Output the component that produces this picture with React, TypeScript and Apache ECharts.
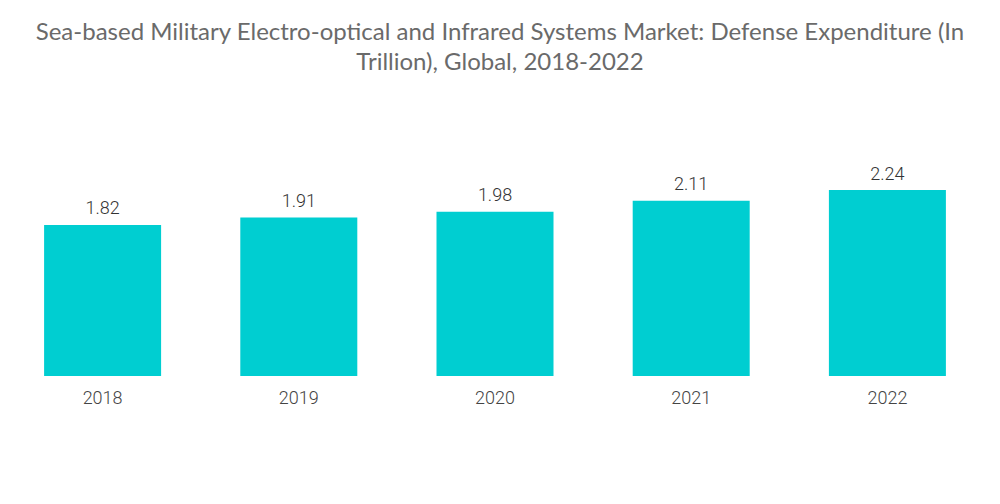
import React, { useEffect, useRef } from "react";
import * as echarts from "echarts";

const categories = ["2018", "2019", "2020", "2021", "2022"];
const values = [1.82, 1.91, 1.98, 2.11, 2.24];
const titleText =
  "Sea-based Military Electro-optical and Infrared Systems Market: Defense Expenditure (In\nTrillion), Global, 2018-2022";

export default function App() {
  const ref = useRef<HTMLDivElement>(null);
  useEffect(() => {
    if (!ref.current) return;
    const chart = echarts.init(ref.current, null, { renderer: "svg" });
    chart.setOption({
      animation: false,
      backgroundColor: "#ffffff",
      title: {
        text: titleText,
        left: "center",
        top: 10,
        textStyle: {
          fontFamily: "Lato",
          fontSize: 24,
          fontWeight: "normal",
          color: "#6a6a6a",
          lineHeight: 30,
        },
      },
      grid: { left: 4.5, right: 14.5, top: 168.5, bottom: 128, containLabel: false },
      xAxis: {
        type: "category",
        data: categories,
        axisLine: { show: false },
        axisTick: { show: false },
        axisLabel: {
          fontFamily: "Roboto",
          fontSize: 18,
          fontWeight: 300,
          color: "#444444",
          margin: 12,
        },
      },
      yAxis: {
        type: "value",
        min: 0,
        max: 2.5,
        show: false,
        splitLine: { show: false },
      },
      series: [
        {
          type: "bar",
          data: values,
          barWidth: 117,
          itemStyle: { color: "#00CED1" },
          label: {
            show: true,
            position: "top",
            distance: 8,
            fontFamily: "Roboto",
            fontSize: 18,
            fontWeight: 300,
            color: "#333333",
          },
        },
      ],
    });
    return () => chart.dispose();
  }, []);
  return (
    <div
      ref={ref}
      style={{ position: "fixed", left: 0, top: 0, width: 1000, height: 504 }}
    />
  );
}
